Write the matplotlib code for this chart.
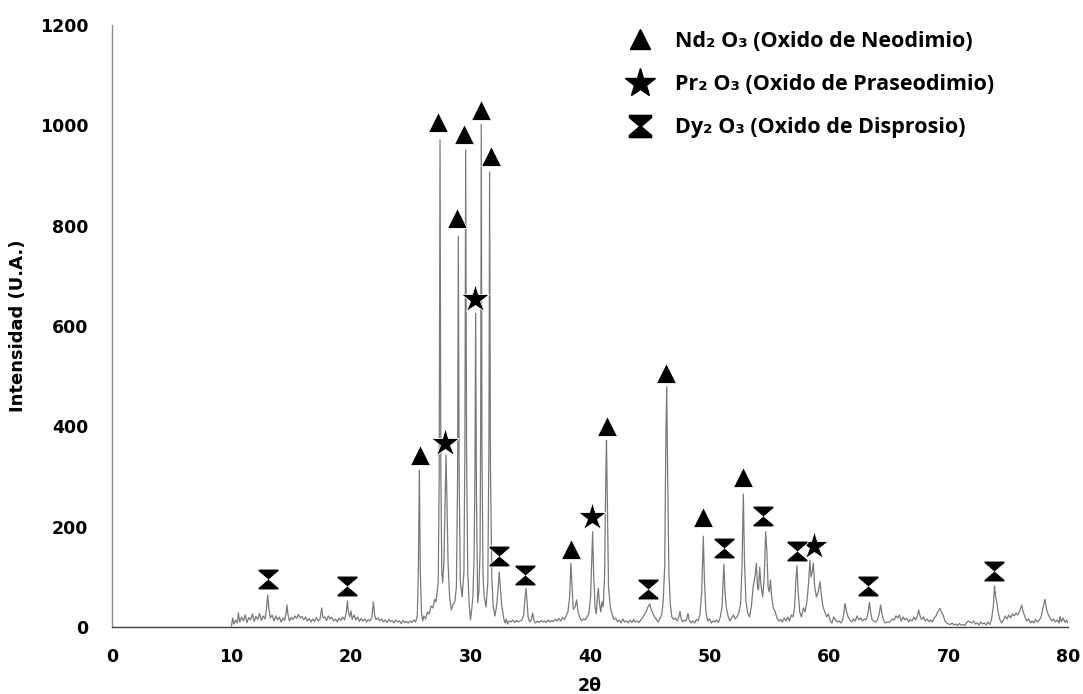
import matplotlib
matplotlib.use("Agg")
import matplotlib.pyplot as plt
from matplotlib.path import Path
from matplotlib.lines import Line2D

# ---------------- data ----------------
two_theta = [
    10.0, 10.1, 10.2, 10.35, 10.5, 10.57, 10.7, 10.85, 11.0, 11.15,
    11.3, 11.45, 11.6, 11.75, 11.9, 12.05, 12.2, 12.35, 12.5, 12.65,
    12.8, 12.92, 13.03, 13.12, 13.25, 13.4, 13.55, 13.7, 13.85, 14.0,
    14.15, 14.3, 14.45, 14.58, 14.64, 14.72, 14.85, 15.0, 15.15, 15.3,
    15.45, 15.6, 15.75, 15.9, 16.05, 16.2, 16.35, 16.5, 16.65, 16.8,
    16.95, 17.1, 17.25, 17.4, 17.55, 17.65, 17.8, 17.95, 18.1, 18.25,
    18.4, 18.55, 18.7, 18.85, 19.0, 19.15, 19.3, 19.45, 19.6, 19.7,
    19.78, 19.9, 20.0, 20.1, 20.25, 20.4, 20.55, 20.7, 20.85, 21.0,
    21.15, 21.3, 21.45, 21.6, 21.75, 21.87, 21.97, 22.1, 22.25, 22.4,
    22.55, 22.7, 22.85, 23.0, 23.15, 23.3, 23.45, 23.6, 23.75, 23.9,
    24.05, 24.2, 24.35, 24.5, 24.65, 24.8, 24.95, 25.1, 25.25, 25.4,
    25.55, 25.64, 25.72, 25.8, 25.9, 26.0, 26.1, 26.25, 26.4, 26.55,
    26.7, 26.85, 27.0, 27.1, 27.2, 27.3, 27.38, 27.45, 27.52, 27.6,
    27.67, 27.78, 27.88, 27.95, 28.03, 28.12, 28.25, 28.4, 28.55, 28.7,
    28.82, 28.92, 28.98, 29.05, 29.15, 29.3, 29.45, 29.53, 29.6, 29.67,
    29.77, 29.9, 30.0, 30.1, 30.2, 30.3, 30.37, 30.43, 30.5, 30.6,
    30.7, 30.8, 30.85, 30.9, 30.96, 31.05, 31.15, 31.3, 31.45, 31.54,
    31.6, 31.67, 31.78, 31.9, 32.05, 32.2, 32.32, 32.4, 32.48, 32.6,
    32.7, 32.8, 32.9, 33.0, 33.1, 33.25, 33.4, 33.55, 33.7, 33.85,
    34.0, 34.15, 34.3, 34.45, 34.57, 34.64, 34.72, 34.82, 34.95, 35.08,
    35.2, 35.32, 35.45, 35.6, 35.75, 35.9, 36.05, 36.2, 36.35, 36.5,
    36.65, 36.8, 36.95, 37.1, 37.25, 37.4, 37.55, 37.7, 37.85, 38.0,
    38.15, 38.3, 38.4, 38.5, 38.6, 38.75, 38.88, 39.0, 39.15, 39.3,
    39.45, 39.6, 39.75, 39.9, 40.05, 40.15, 40.22, 40.3, 40.42, 40.52,
    40.62, 40.7, 40.78, 40.9, 41.0, 41.1, 41.22, 41.32, 41.38, 41.45,
    41.55, 41.7, 41.85, 42.0, 42.15, 42.3, 42.45, 42.6, 42.75, 42.9,
    43.05, 43.2, 43.35, 43.5, 43.65, 43.8, 43.95, 44.1, 44.25, 44.4,
    44.55, 44.7, 44.85, 45.0, 45.12, 45.25, 45.4, 45.55, 45.7, 45.85,
    46.0, 46.12, 46.25, 46.35, 46.42, 46.5, 46.6, 46.72, 46.85, 47.0,
    47.15, 47.3, 47.45, 47.53, 47.62, 47.75, 47.9, 48.05, 48.2, 48.3,
    48.45, 48.6, 48.75, 48.9, 49.05, 49.2, 49.35, 49.48, 49.58, 49.7,
    49.85, 50.0, 50.15, 50.3, 50.45, 50.6, 50.75, 50.9, 51.05, 51.2,
    51.3, 51.4, 51.55, 51.7, 51.85, 52.0, 52.15, 52.3, 52.45, 52.6,
    52.72, 52.83, 52.93, 53.05, 53.2, 53.35, 53.5, 53.65, 53.8, 53.92,
    54.02, 54.1, 54.2, 54.3, 54.45, 54.58, 54.7, 54.8, 54.9, 55.0,
    55.1, 55.2, 55.35, 55.5, 55.65, 55.8, 55.95, 56.1, 56.25, 56.4,
    56.55, 56.7, 56.85, 57.0, 57.12, 57.22, 57.32, 57.42, 57.55, 57.7,
    57.85, 58.0, 58.15, 58.3, 58.4, 58.5, 58.6, 58.69, 58.8, 58.95,
    59.1, 59.25, 59.38, 59.5, 59.65, 59.8, 59.95, 60.1, 60.25, 60.4,
    60.55, 60.7, 60.85, 61.0, 61.15, 61.25, 61.34, 61.45, 61.6, 61.75,
    61.9, 62.05, 62.2, 62.35, 62.5, 62.65, 62.8, 62.95, 63.1, 63.25,
    63.38, 63.48, 63.6, 63.75, 63.9, 64.05, 64.2, 64.32, 64.42, 64.55,
    64.7, 64.85, 65.0, 65.15, 65.3, 65.45, 65.6, 65.75, 65.9, 66.05,
    66.2, 66.35, 66.5, 66.65, 66.8, 66.95, 67.1, 67.25, 67.4, 67.5,
    67.62, 67.75, 67.9, 68.05, 68.2, 68.35, 68.5, 68.65, 68.8, 68.95,
    69.1, 69.29, 69.4, 69.55, 69.7, 69.85, 70.0, 70.15, 70.3, 70.45,
    70.6, 70.75, 70.9, 71.05, 71.2, 71.35, 71.5, 71.65, 71.8, 71.95,
    72.1, 72.25, 72.4, 72.55, 72.7, 72.85, 73.0, 73.15, 73.3, 73.45,
    73.6, 73.75, 73.85, 73.95, 74.05, 74.15, 74.3, 74.45, 74.6, 74.75,
    74.9, 75.05, 75.2, 75.35, 75.5, 75.65, 75.8, 75.95, 76.05, 76.12,
    76.25, 76.4, 76.55, 76.7, 76.85, 77.0, 77.15, 77.3, 77.45, 77.6,
    77.75, 77.9, 78.0, 78.08, 78.2, 78.35, 78.5, 78.65, 78.8, 78.95,
    79.1, 79.25, 79.33, 79.45, 79.6, 79.75, 79.9, 80.0,
]
intensity = [
    2, 18, 6, 14, 8, 28, 10, 20, 12, 24,
    9, 19, 14, 26, 11, 21, 15, 27, 13, 22,
    16, 35, 64, 38, 18, 24, 12, 22, 14, 20,
    10, 18, 13, 30, 44, 25, 12, 19, 15, 22,
    17, 25, 18, 21, 14, 20, 12, 17, 10, 16,
    11, 19, 12, 15, 38, 18, 20, 13, 22, 16,
    19, 12, 16, 10, 18, 13, 20, 14, 28, 52,
    30, 20, 32, 15, 24, 14, 20, 11, 17, 12,
    16, 10, 15, 12, 20, 50, 24, 15, 18, 12,
    16, 10, 14, 9, 15, 11, 13, 8, 14, 10,
    12, 7, 13, 9, 11, 8, 12, 9, 14, 10,
    22, 120, 313, 110, 28, 12, 22, 16, 30, 26,
    42, 38, 55, 50, 68, 90, 300, 971, 300, 110,
    88, 130, 260, 343, 250, 130, 60, 34, 45, 52,
    80, 300, 779, 300, 90, 60, 110, 350, 951, 350,
    110, 40, 14, 35, 60, 140, 300, 625, 260, 48,
    70, 150, 400, 1002, 350, 100, 60, 40, 90, 350,
    907, 320, 100, 40, 22, 45, 80, 110, 85, 45,
    30, 15, 8, 16, 6, 12, 10, 14, 9, 13,
    10, 12, 14, 24, 60, 77, 55, 20, 10, 14,
    28, 12, 8, 12, 9, 13, 10, 12, 9, 14,
    10, 13, 11, 15, 12, 17, 12, 19, 15, 22,
    30, 60, 127, 80, 35, 40, 54, 30, 18, 12,
    16, 14, 20, 26, 60, 140, 190, 110, 40, 26,
    60, 77, 50, 30, 50, 40, 100, 300, 372, 250,
    80, 40, 25, 15, 18, 10, 14, 8, 16, 10,
    12, 8, 14, 9, 15, 10, 12, 9, 14, 18,
    25, 30, 40, 46, 35, 28, 20, 15, 10, 16,
    25, 50, 120, 380, 479, 300, 110, 45, 20, 15,
    18, 12, 22, 31, 18, 10, 14, 12, 27, 14,
    8, 12, 8, 15, 12, 25, 70, 181, 90, 30,
    12, 16, 8, 12, 10, 14, 9, 20, 40, 125,
    70, 40, 22, 12, 18, 24, 16, 20, 28, 45,
    120, 265, 130, 50, 28, 20, 40, 80, 100, 127,
    78, 74, 119, 85, 60, 100, 190, 150, 80, 70,
    94, 60, 38, 30, 18, 12, 15, 10, 18, 12,
    20, 12, 24, 20, 40, 90, 122, 70, 30, 20,
    38, 30, 50, 90, 133, 100, 110, 128, 80, 60,
    70, 90, 60, 40, 30, 20, 26, 12, 8, 20,
    14, 10, 12, 8, 14, 30, 47, 32, 20, 14,
    10, 16, 12, 22, 14, 18, 12, 16, 14, 25,
    49, 30, 15, 12, 10, 14, 26, 44, 28, 15,
    8, 10, 9, 12, 16, 14, 22, 18, 24, 12,
    20, 14, 18, 10, 15, 12, 20, 14, 22, 34,
    22, 15, 20, 12, 16, 11, 14, 10, 18, 22,
    30, 37, 30, 24, 12, 8, 6, 5, 8, 4,
    6, 3, 7, 4, 5, 3, 8, 12, 10, 8,
    12, 6, 8, 4, 10, 6, 8, 4, 10, 5,
    15, 40, 82, 60, 48, 30, 15, 8, 14, 22,
    16, 24, 18, 26, 22, 28, 24, 32, 38, 44,
    30, 20, 12, 16, 8, 12, 8, 15, 10, 14,
    20, 38, 48, 55, 35, 25, 18, 12, 16, 10,
    14, 8, 21, 10, 18, 9, 14, 8,
]
assert len(two_theta) == len(intensity)

# Phase identification marks
nd_theta = [25.77, 27.3, 28.84, 29.46, 30.88, 31.72, 38.38, 41.4, 46.33, 49.46, 52.77]
nd_int = [343, 1007, 816, 983, 1031, 938, 155, 400, 507, 220, 300]
pr_theta = [27.87, 30.38, 40.14, 58.77]
pr_int = [366, 653, 220, 161]
dy_theta = [13.03, 19.7, 32.41, 34.56, 44.83, 51.21, 54.45, 57.29, 63.23, 73.8]
dy_int = [96, 82, 141, 104, 75, 157, 221, 152, 82, 112]

legend_labels = [
    "Nd\u2082 O\u2083 (Oxido de Neodimio)",
    "Pr\u2082 O\u2083 (Oxido de Praseodimio)",
    "Dy\u2082 O\u2083 (Oxido de Disprosio)",
]
x_ticks = [0, 10, 20, 30, 40, 50, 60, 70, 80]
y_ticks = [0, 200, 400, 600, 800, 1000, 1200]

# ---------------- figure ----------------
W, H = 1083, 694
fig = plt.figure(figsize=(W / 100, H / 100), dpi=100)
ax = fig.add_axes([112 / W, 1 - 627 / H, (1068 - 112) / W, (627 - 25) / H])

ax.plot(two_theta, intensity, color="#7a7a7a", lw=0.9, zorder=2)

hourglass = Path(
    [(-1, 1), (1, 1), (1, 0.8), (0.06, 0.0), (1, -0.8), (1, -1), (-1, -1),
     (-1, -0.8), (-0.06, 0.0), (-1, 0.8), (-1, 1)],
    [Path.MOVETO] + [Path.LINETO] * 9 + [Path.CLOSEPOLY],
)

ax.plot(nd_theta, nd_int, ls="none", marker="^", ms=14, color="black",
        mec="white", mew=0.6, zorder=4)
ax.plot(pr_theta, pr_int, ls="none", marker="*", ms=21, color="black",
        mec="white", mew=0.6, zorder=4)
ax.plot(dy_theta, dy_int, ls="none", marker=hourglass, ms=15, color="black",
        mec="white", mew=0.6, zorder=4)

ax.set_xlim(0, 80)
ax.set_ylim(0, 1200)
ax.set_xticks(x_ticks)
ax.set_yticks(y_ticks)
tick_font = dict(family="DejaVu Sans", weight="bold", size=12.5)
ax.set_xticklabels([str(t) for t in x_ticks], **tick_font)
ax.set_yticklabels([str(t) for t in y_ticks], **tick_font)
ax.tick_params(axis="both", length=0)
ax.tick_params(axis="y", pad=17)
ax.tick_params(axis="x", pad=15)

for s in ["top", "right"]:
    ax.spines[s].set_visible(False)
ax.spines["left"].set_color("#8c8c8c")
ax.spines["bottom"].set_color("#404040")
ax.spines["left"].set_linewidth(1.0)
ax.spines["bottom"].set_linewidth(1.0)

ax.set_xlabel("2\u03b8", fontsize=12.5, fontweight="bold", family="DejaVu Sans",
              labelpad=8)
ax.set_ylabel("Intensidad (U.A.)", fontsize=13, fontweight="bold",
              family="DejaVu Sans", labelpad=9)

handles = [
    Line2D([], [], ls="none", marker="^", ms=15, color="black"),
    Line2D([], [], ls="none", marker="*", ms=22, color="black"),
    Line2D([], [], ls="none", marker=hourglass, ms=16, color="black"),
]
leg = fig.legend(
    handles, legend_labels, loc="upper left",
    bbox_to_anchor=(623 / W, 1 - 31 / H), frameon=False,
    prop=dict(family=["Open Sans", "DejaVu Sans"], weight="bold", size=15.5),
    handlelength=1.6, handletextpad=0.82, labelspacing=1.03, borderpad=0,
    borderaxespad=0,
)

fig.savefig("out.png", dpi=100)
